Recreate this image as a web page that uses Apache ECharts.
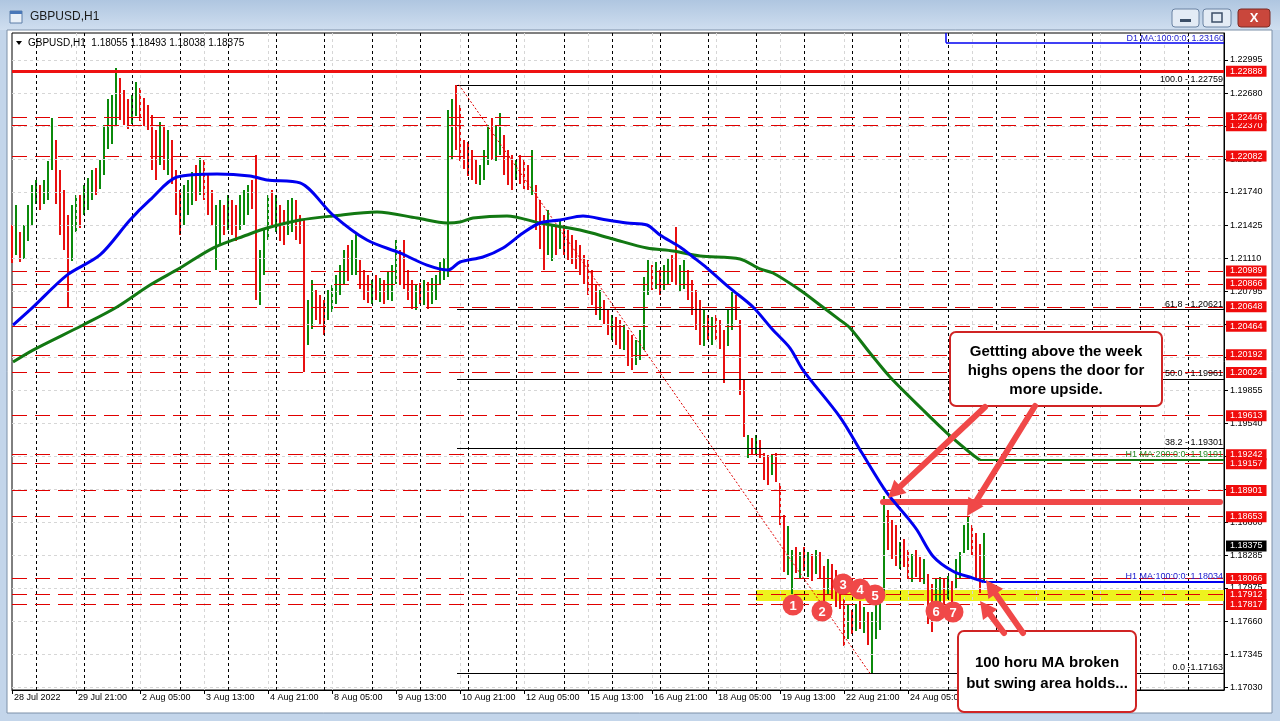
<!DOCTYPE html>
<html><head><meta charset="utf-8">
<script src="https://cdn.jsdelivr.net/npm/echarts@6/dist/echarts.min.js"></script>
<style>html,body{margin:0;padding:0;background:#c9d9ec;overflow:hidden}#c{width:1280px;height:721px}</style>
</head><body><div id="c"></div>
<script>
// ---------- DATA ----------
const timeLabels = ['28 Jul 2022','29 Jul 21:00','2 Aug 05:00','3 Aug 13:00','4 Aug 21:00','8 Aug 05:00','9 Aug 13:00','10 Aug 21:00','12 Aug 05:00','15 Aug 13:00','16 Aug 21:00','18 Aug 05:00','19 Aug 13:00','22 Aug 21:00','24 Aug 05:00'];
const priceTicks = [1.22995,1.22680,1.22365,1.22050,1.21740,1.21425,1.21110,1.20795,1.20480,1.20170,1.19855,1.19540,1.19225,1.18910,1.18600,1.18285,1.17975,1.17660,1.17345,1.17030];
// 2-hour bars (high / low / direction u=up d=down)
const barHigh = [1.2143,1.2162,1.2136,1.2143,1.2162,1.2181,1.2185,1.2181,1.2185,1.2203,
1.2244,1.2223,1.2195,1.2176,1.2152,1.2162,1.2171,1.2171,1.2181,1.2187,
1.2195,1.2197,1.2204,1.2238,1.2262,1.2266,1.2292,1.2282,1.2271,1.2262,
1.2266,1.2279,1.2273,1.2263,1.2257,1.2247,1.2233,1.2241,1.2238,1.2233,
1.2223,1.2195,1.2176,1.2181,1.2185,1.2193,1.2200,1.2206,1.2204,1.2190,
1.2176,1.2162,1.2166,1.2162,1.2171,1.2166,1.2162,1.2171,1.2176,1.2181,
1.2185,1.2209,1.2119,1.2138,1.2171,1.2176,1.2171,1.2162,1.2157,1.2166,
1.2168,1.2166,1.2152,1.2147,1.2071,1.2090,1.2081,1.2076,1.2071,1.2081,
1.2086,1.2095,1.2105,1.2119,1.2124,1.2128,1.2136,1.2109,1.2100,1.2095,
1.2090,1.2095,1.2092,1.2090,1.2098,1.2105,1.2128,1.2119,1.2128,1.2100,
1.2090,1.2086,1.2087,1.2090,1.2088,1.2092,1.2095,1.2107,1.2111,1.2252,
1.2262,1.2276,1.2257,1.2223,1.2222,1.2214,1.2204,1.2200,1.2214,1.2238,
1.2244,1.2238,1.2249,1.2228,1.2214,1.2209,1.2204,1.2209,1.2204,1.2200,
1.2214,1.2181,1.2166,1.2152,1.2157,1.2143,1.2143,1.2147,1.2143,1.2138,
1.2133,1.2128,1.2124,1.2114,1.2109,1.2100,1.2086,1.2081,1.2071,1.2062,
1.2057,1.2055,1.2052,1.2048,1.2043,1.2038,1.2033,1.2043,1.2093,1.2109,
1.2105,1.2107,1.2100,1.2105,1.2111,1.2114,1.2141,1.2105,1.2109,1.2100,
1.2090,1.2081,1.2071,1.2062,1.2057,1.2055,1.2057,1.2052,1.2043,1.2062,
1.2079,1.2076,1.2052,1.1995,1.1943,1.1940,1.1943,1.1938,1.1926,1.1924,
1.1924,1.1926,1.1897,1.1867,1.1856,1.1834,1.1836,1.1832,1.1836,1.1832,
1.1830,1.1834,1.1832,1.1818,1.1825,1.1820,1.1815,1.1806,1.1787,1.1782,
1.1777,1.1782,1.1785,1.1779,1.1775,1.1775,1.1787,1.1794,1.1885,1.1872,
1.1862,1.1857,1.1841,1.1844,1.1834,1.1830,1.1834,1.1827,1.1825,1.1811,
1.1801,1.1806,1.1808,1.1806,1.1809,1.1804,1.1825,1.1832,1.1857,1.1865,
1.1857,1.1850,1.1839,1.18493];
const barLow = [1.2107,1.2114,1.2107,1.2111,1.2128,1.2143,1.2162,1.2157,1.2162,1.2166,
1.2195,1.2162,1.2133,1.2119,1.2064,1.2109,1.2136,1.2140,1.2152,1.2157,
1.2166,1.2171,1.2176,1.2190,1.2214,1.2219,1.2238,1.2242,1.2238,1.2233,
1.2238,1.2247,1.2242,1.2236,1.2233,1.2195,1.2185,1.2200,1.2195,1.2190,
1.2181,1.2152,1.2133,1.2143,1.2152,1.2162,1.2166,1.2171,1.2166,1.2152,
1.2143,1.2100,1.2124,1.2133,1.2138,1.2133,1.2128,1.2138,1.2143,1.2152,
1.2157,1.2071,1.2067,1.2095,1.2128,1.2143,1.2136,1.2128,1.2124,1.2133,
1.2136,1.2128,1.2124,1.2002,1.2028,1.2043,1.2052,1.2048,1.2038,1.2052,
1.2060,1.2067,1.2076,1.2086,1.2090,1.2095,1.2095,1.2081,1.2071,1.2068,
1.2067,1.2071,1.2069,1.2067,1.2071,1.2071,1.2086,1.2086,1.2081,1.2071,
1.2062,1.2062,1.2067,1.2066,1.2062,1.2067,1.2071,1.2086,1.2090,1.2093,
1.2204,1.2214,1.2204,1.2195,1.2190,1.2185,1.2181,1.2181,1.2185,1.2200,
1.2204,1.2204,1.2209,1.2190,1.2181,1.2176,1.2185,1.2181,1.2176,1.2176,
1.2171,1.2138,1.2119,1.2100,1.2114,1.2109,1.2114,1.2119,1.2114,1.2109,
1.2105,1.2100,1.2095,1.2086,1.2076,1.2067,1.2057,1.2052,1.2048,1.2038,
1.2033,1.2028,1.2024,1.2024,1.2009,1.2005,1.2009,1.2014,1.2024,1.2076,
1.2081,1.2081,1.2076,1.2081,1.2086,1.2088,1.2086,1.2079,1.2081,1.2071,
1.2057,1.2043,1.2028,1.2028,1.2033,1.2028,1.2033,1.2024,1.1993,1.2028,
1.2043,1.2052,1.1981,1.1941,1.1921,1.1924,1.1924,1.1921,1.1900,1.1895,
1.1905,1.1898,1.1857,1.1813,1.1809,1.1792,1.1811,1.1806,1.1813,1.1808,
1.1804,1.1811,1.1806,1.1785,1.1792,1.1787,1.1780,1.1777,1.1742,1.1749,
1.1754,1.1756,1.1758,1.1754,1.1744,1.1716,1.1749,1.1758,1.1792,1.1834,
1.1825,1.1818,1.1815,1.1817,1.1806,1.1803,1.1808,1.1803,1.1801,1.1763,
1.1755,1.1768,1.1784,1.1782,1.1787,1.1784,1.1796,1.1806,1.1830,1.1834,
1.1828,1.1806,1.1792,1.18038];
const barDir = 'duduuuuduu'+'udddduuduu'+'uduuuuuddd'+'uudddddudu'+'ddduuududd'+'duududduuu'+'dduuududdu'+'uddduudddu'+'uuuuduuddd'+'ududuuuddd'+
               'dududuuuuu'+'udddddduuu'+'duuddduddd'+'uddduududd'+'dddddddudd'+'uddudduuuu'+'duduudduud'+'dddududddu'+'udddududdd'+'uddduududu'+
               'dudduddddu'+'dududuuuud'+'ddudduddud'+'duududuuuu'+'dddu';
// moving averages: [hour index, price]
const ma100 = [[0.5,1.20475],[10.5,1.20646],[27.5,1.20950],[44,1.21141],[59,1.21473],[69,1.21664],[82.5,1.21882],[102.5,1.21911],[119,1.21892],[127.5,1.21854],[144,1.21826],[160.5,1.21521],[177.5,1.21283],[194,1.21160],[207.5,1.21045],[218,1.20998],[224,1.21074],[235.5,1.21122],[245.5,1.21207],[255.5,1.21350],[264,1.21445],[274,1.21473],[285.5,1.21512],[297.5,1.21473],[307.5,1.21445],[317.5,1.21426],[324,1.21331],[334,1.21217],[340.5,1.21122],[347.5,1.21017],[359,1.20826],[370.5,1.20646],[380.5,1.20427],[389,1.20256],[395.5,1.20047],[414,1.19600],[425,1.19258],[437.5,1.18878],[447.5,1.18650],[452.5,1.18526],[460.5,1.18277],[470.5,1.18134],[480.5,1.18068],[486,1.18034]];
const ma200 = [[0.5,1.20123],[10.5,1.20237],[35.5,1.20475],[52.5,1.20646],[69,1.20855],[84,1.21017],[100.5,1.21207],[117.5,1.21331],[127.5,1.21397],[144,1.21473],[160.5,1.21512],[182.5,1.21550],[202.5,1.21492],[217.5,1.21445],[224,1.21454],[230.5,1.21492],[247.5,1.21512],[264,1.21445],[284,1.21378],[300.5,1.21293],[317.5,1.21207],[330.5,1.21179],[344,1.21131],[364,1.21103],[374,1.21008],[380.5,1.20970],[394,1.20808],[404,1.20665],[414,1.20522],[419,1.20447],[429,1.20209],[439,1.19981],[455.5,1.19667],[467.5,1.19448],[480.5,1.19239],[484,1.19191]];
const ma100Last = 1.18034, ma200Last = 1.19191, d1Ma = 1.23160;
const majorLevel = 1.22888;
const levelPrices = [1.17817,1.17912,1.18066,1.18653,1.18901,1.19157,1.19242,1.19613,1.20024,1.20192,1.20464,1.20648,1.20866,1.20989,1.22082,1.22370,1.22446];
const fibText = ['100.0 - 1.22759','61.8 - 1.20621','50.0 - 1.19961','38.2 - 1.19301','0.0 -1.17163'];
const fibPrice = [1.22759,1.20621,1.19961,1.19301,1.17163];
const lastPrice = 1.18375;
const swingZone = [1.17955,1.17850];
const weekHigh = 1.18792;
const headerText = 'GBPUSD,H1  1.18055 1.18493 1.18038 1.18375';

// ---------- CHART ----------
const XMAX = 606, YMIN = 1.170047, YMAX = 1.232517;
const FIB_START = 222.5, FIB_END_LOW = 429, SWING_START = 372, D1_STEP = 467;
const GREEN = '#0b8a0b', RED = '#e81010', CORAL = '#f04848', FONT = 'Liberation Sans';
const chart = echarts.init(document.getElementById('c'));

const xTickVals = timeLabels.map((_, k) => 32 * k);
const sepVals = []; for (let v = 12; v < XMAX; v += 24) sepVals.push(v);
const vGrid = []; for (let v = 32; v < XMAX; v += 32) vGrid.push(v);
const barData = barHigh.map((h, j) => [2 * j, h, barLow[j], barDir[j] === 'u' ? 1 : 0]);
const none = ['none', 'none'];

function emptyLine(z, markLine, extra) {
  return Object.assign({ type: 'line', data: [], z: z, silent: true, animation: false,
    markLine: Object.assign({ symbol: none, silent: true, animation: false, precision: 5 }, markLine) }, extra || {});
}

function arrow(x1, y1, x2, y2) {
  const a = Math.atan2(y2 - y1, x2 - x1), L = 17, W = 9;
  const bx = x2 - L * Math.cos(a), by = y2 - L * Math.sin(a);
  const nx = -Math.sin(a), ny = Math.cos(a);
  return [
    { type: 'line', z: 60, shape: { x1: x1, y1: y1, x2: bx, y2: by }, style: { stroke: CORAL, lineWidth: 6, lineCap: 'round' } },
    { type: 'polygon', z: 60, shape: { points: [[x2, y2], [bx + nx * W, by + ny * W], [bx - nx * W, by - ny * W]] }, style: { fill: CORAL } }
  ];
}
const circles = [['1', 793, 605], ['2', 822, 611], ['3', 843, 584], ['4', 860, 589], ['5', 875, 595], ['6', 936, 611], ['7', 953, 612]];

const graphics = [
  // window chrome
  { type: 'rect', z: -10, shape: { x: 0, y: 0, width: 1280, height: 721 }, style: { fill: '#c3d5ea' } },
  { type: 'rect', z: -9, shape: { x: 0, y: 0, width: 1280, height: 30 }, style: { fill: new echarts.graphic.LinearGradient(0, 0, 0, 1, [{ offset: 0, color: '#afc6e0' }, { offset: 1, color: '#cfdeef' }]) } },
  { type: 'rect', z: -8, shape: { x: 7, y: 30, width: 1265, height: 683 }, style: { fill: '#ffffff', stroke: '#7d90a8', lineWidth: 1 } },
  { type: 'rect', z: -7, shape: { x: 10, y: 11, width: 12, height: 12 }, style: { fill: '#e9f0f8', stroke: '#5d7fa8', lineWidth: 1 } },
  { type: 'rect', z: -7, shape: { x: 10, y: 11, width: 12, height: 3 }, style: { fill: '#4a78b8' } },
  { type: 'text', z: -7, x: 30, y: 17, style: { text: 'GBPUSD,H1', fontSize: 12, fontFamily: FONT, fill: '#1a1a1a', verticalAlign: 'middle' } },
  { type: 'rect', z: -7, shape: { x: 1172, y: 9, width: 27, height: 18, r: 3 }, style: { fill: '#e3ebf5', stroke: '#6a83a3', lineWidth: 1 } },
  { type: 'rect', z: -6, shape: { x: 1180, y: 19, width: 11, height: 3 }, style: { fill: '#3c4f68' } },
  { type: 'rect', z: -7, shape: { x: 1203, y: 9, width: 28, height: 18, r: 3 }, style: { fill: '#e3ebf5', stroke: '#6a83a3', lineWidth: 1 } },
  { type: 'rect', z: -6, shape: { x: 1212, y: 13, width: 10, height: 9 }, style: { fill: 'none', stroke: '#3c4f68', lineWidth: 1.5 } },
  { type: 'rect', z: -7, shape: { x: 1238, y: 9, width: 32, height: 18, r: 3 }, style: { fill: '#c9473c', stroke: '#7a2a24', lineWidth: 1 } },
  { type: 'text', z: -6, x: 1254, y: 18, style: { text: 'X', fontSize: 13, fontWeight: 'bold', fontFamily: FONT, fill: '#ffffff', align: 'center', verticalAlign: 'middle' } },
  // chart header
  { type: 'polygon', z: 40, shape: { points: [[16, 41], [22, 41], [19, 45]] }, style: { fill: '#000' } },
  { type: 'text', z: 40, x: 28, y: 43, style: { text: headerText, fontSize: 10, fontFamily: FONT, fill: '#000', verticalAlign: 'middle' } },
  // annotation boxes
  { type: 'rect', z: 55, shape: { x: 950, y: 332, width: 212, height: 74, r: 6 }, style: { fill: '#fff', stroke: '#d02424', lineWidth: 2 } },
  { type: 'text', z: 56, x: 1056, y: 371, style: { text: 'Gettting above the week\nhighs opens the door for\nmore upside.', fontSize: 15, fontWeight: 'bold', fontFamily: FONT, fill: '#000', align: 'center', verticalAlign: 'middle', lineHeight: 19 } },
  { type: 'rect', z: 55, shape: { x: 958, y: 631, width: 178, height: 81, r: 6 }, style: { fill: '#fff', stroke: '#d02424', lineWidth: 2 } },
  { type: 'text', z: 56, x: 1047, y: 673, style: { text: '100 horu MA broken\nbut swing area holds...', fontSize: 15, fontWeight: 'bold', fontFamily: FONT, fill: '#000', align: 'center', verticalAlign: 'middle', lineHeight: 21 } }
].concat(arrow(985, 407, 888, 498), arrow(1035, 406, 967, 516), arrow(1023, 633, 986, 580), arrow(1004, 633, 980, 601));
circles.forEach(c => {
  graphics.push({ type: 'circle', z: 58, shape: { cx: c[1], cy: c[2], r: 10.5 }, style: { fill: CORAL } });
  graphics.push({ type: 'text', z: 59, x: c[1], y: c[2] + 1, style: { text: c[0], fontSize: 13, fontWeight: 'bold', fontFamily: FONT, fill: '#fff', align: 'center', verticalAlign: 'middle' } });
});

const lvlLabel = { show: true, position: 'end', distance: 2, fontSize: 9, fontFamily: FONT, color: '#fff', backgroundColor: '#f00c0c', padding: [1, 4, 0, 4], lineHeight: 10, formatter: p => Number(p.value).toFixed(5) };

const option = {
  animation: false,
  backgroundColor: '#c3d5ea',
  textStyle: { fontFamily: FONT },
  graphic: { elements: graphics },
  grid: { left: 12, top: 33, right: 56, bottom: 31, show: true, borderColor: '#000', borderWidth: 1, backgroundColor: 'transparent' },
  xAxis: {
    type: 'value', min: 0, max: XMAX, interval: 32,
    axisLine: { show: true, onZero: false, lineStyle: { color: '#000', width: 1 } },
    axisTick: { show: true, length: 4, customValues: xTickVals, lineStyle: { color: '#000' } },
    axisLabel: { customValues: xTickVals, formatter: v => timeLabels[Math.round(v / 32)] || '', align: 'left', padding: [0, 0, 0, 2], fontSize: 9, color: '#000', margin: 3 },
    splitLine: { show: false }
  },
  yAxis: {
    type: 'value', position: 'right', min: YMIN, max: YMAX, scale: true,
    axisLine: { show: true, onZero: false, lineStyle: { color: '#000', width: 1 } },
    axisTick: { show: true, length: 4, customValues: priceTicks, lineStyle: { color: '#000' } },
    axisLabel: { customValues: priceTicks, formatter: v => v.toFixed(5), fontSize: 9, color: '#000', margin: 6 },
    splitLine: { show: false }
  },
  series: [
    // light grid
    emptyLine(1, { lineStyle: { color: '#d6d6d6', type: [3, 3], width: 1 }, label: { show: false },
      data: priceTicks.map(p => ({ yAxis: p })).concat(vGrid.map(v => ({ xAxis: v }))) }),
    // day separators
    emptyLine(1, { lineStyle: { color: '#000', type: [3, 3], width: 1 }, label: { show: false }, data: sepVals.map(v => ({ xAxis: v })) }),
    // swing zone
    { type: 'line', data: [], z: 1, silent: true, markArea: { silent: true, itemStyle: { color: '#eef21e', opacity: 1 }, data: [[{ coord: [SWING_START, swingZone[0]] }, { coord: [XMAX, swingZone[1]] }]] } },
    // dashed levels
    emptyLine(2, { lineStyle: { color: '#e00000', type: [15, 8], width: 1 }, label: lvlLabel, data: levelPrices.map(p => ({ yAxis: p })) }),
    // major level
    emptyLine(2, { lineStyle: { color: '#ee1111', type: 'solid', width: 3 }, label: lvlLabel, data: [{ yAxis: majorLevel }] }),
    // fib lines
    emptyLine(2, { lineStyle: { color: '#000', type: 'solid', width: 1 },
      label: { show: true, position: 'insideEndTop', distance: 1, fontSize: 9, color: '#000', formatter: p => p.name },
      data: fibPrice.map((p, k) => [{ name: fibText[k], coord: [FIB_START, p] }, { name: fibText[k], coord: [XMAX, p] }]) }),
    emptyLine(2, { lineStyle: { color: '#e00000', type: [2, 2], width: 1 }, label: { show: false },
      data: [[{ coord: [FIB_START + 1, fibPrice[0]] }, { coord: [FIB_END_LOW, fibPrice[4]] }]] }),
    // price bars
    { type: 'custom', z: 4, silent: true, data: barData, encode: { x: 0, y: [1, 2] },
      renderItem: (params, api) => {
        const x = api.value(0), hi = api.value(1), lo = api.value(2), up = api.value(3);
        const a = api.coord([x, hi]), b = api.coord([x, lo]);
        const px = Math.round(a[0]);
        return { type: 'rect', shape: { x: px - 1, y: Math.round(a[1]), width: 2, height: Math.max(1, Math.round(b[1] - a[1])) }, style: { fill: up ? GREEN : RED } };
      } },
    // moving averages
    { type: 'line', z: 5, data: ma200, smooth: 0.3, showSymbol: false, silent: true, lineStyle: { color: '#127812', width: 3 },
      markLine: { symbol: none, silent: true, precision: 5, lineStyle: { color: '#127812', width: 2, type: 'solid' },
        label: { show: true, position: 'insideEndTop', distance: 1, fontSize: 9, color: '#2a8a2a', formatter: 'H1 MA:200:0:0: ' + ma200Last.toFixed(5) },
        data: [[{ coord: [ma200[ma200.length - 1][0], ma200Last] }, { coord: [XMAX, ma200Last] }]] } },
    { type: 'line', z: 5, data: ma100, smooth: 0.3, showSymbol: false, silent: true, lineStyle: { color: '#0000f0', width: 3 },
      markLine: { symbol: none, silent: true, precision: 5, lineStyle: { color: '#0000f0', width: 2, type: 'solid' },
        label: { show: true, position: 'insideEndTop', distance: 1, fontSize: 9, color: '#2020d0', formatter: 'H1 MA:100:0:0: ' + ma100Last.toFixed(5) },
        data: [[{ coord: [ma100[ma100.length - 1][0], ma100Last] }, { coord: [XMAX, ma100Last] }]] } },
    // D1 MA
    emptyLine(5, { lineStyle: { color: '#0000f0', width: 1.5, type: 'solid' },
      data: [
        [{ coord: [D1_STEP, YMAX] }, { coord: [D1_STEP, d1Ma] }],
        [{ coord: [D1_STEP, d1Ma], name: 'D1 MA:100:0:0: ' + d1Ma.toFixed(5), label: { show: true, position: 'insideEndTop', distance: 0, fontSize: 9, color: '#2020d0', formatter: p => p.name } }, { coord: [XMAX, d1Ma] }]
      ], label: { show: false } }),
    // week-high callout line
    emptyLine(6, { lineStyle: { color: CORAL, width: 6, type: 'solid', cap: 'round' }, label: { show: false },
      data: [[{ coord: [435.5, weekHigh] }, { coord: [604, weekHigh] }]] }),
    // last price label
    emptyLine(7, { lineStyle: { color: 'rgba(0,0,0,0)', width: 0 }, label: Object.assign({}, lvlLabel, { backgroundColor: '#000000', color: '#ffffff' }), data: [{ yAxis: lastPrice }] })
  ]
};
chart.setOption(option);
</script>
</body></html>
